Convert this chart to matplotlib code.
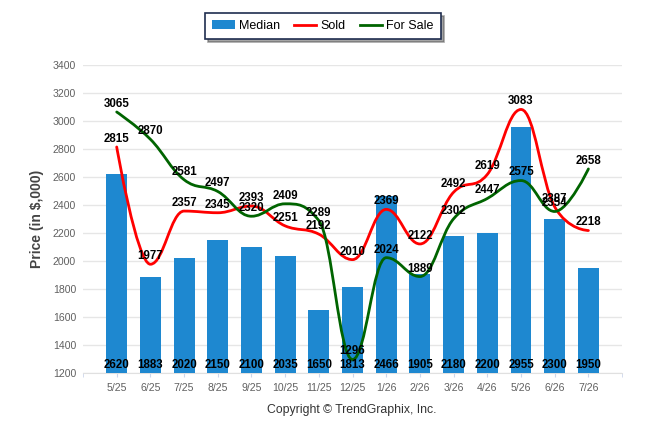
import matplotlib
matplotlib.use("Agg")
import matplotlib.pyplot as plt
from matplotlib.path import Path
from matplotlib.patches import PathPatch, Patch
from matplotlib.lines import Line2D

months = ["5/25", "6/25", "7/25", "8/25", "9/25", "10/25", "11/25", "12/25",
          "1/26", "2/26", "3/26", "4/26", "5/26", "6/26", "7/26"]
median = [2620, 1883, 2020, 2150, 2100, 2035, 1650, 1813, 2466, 1905, 2180, 2200, 2955, 2300, 1950]
sold = [2815, 1977, 2357, 2345, 2393, 2251, 2192, 2010, 2369, 2122, 2492, 2619, 3083, 2387, 2218]
for_sale = [3065, 2870, 2581, 2497, 2320, 2409, 2289, 1296, 2024, 1889, 2302, 2447, 2575, 2354, 2658]
yticks = list(range(1200, 3401, 200))

BAR = "#1e88d0"
RED = "#ff0000"
GREEN = "#006400"
GRID = "#e6e6e6"
TXT = "#606060"

plt.rcParams['font.family'] = ['Liberation Sans', 'DejaVu Sans']


def spline_path(xs, ys):
    n = len(xs)
    lc = [None] * n
    rc = [None] * n
    for i in range(n):
        x, y = xs[i], ys[i]
        lcx, lcy, rcx, rcy = x, y, x, y
        if 0 < i < n - 1:
            lx, ly = xs[i - 1], ys[i - 1]
            nx, ny = xs[i + 1], ys[i + 1]
            lcx = (1.5 * x + lx) / 2.5
            lcy = (1.5 * y + ly) / 2.5
            rcx = (1.5 * x + nx) / 2.5
            rcy = (1.5 * y + ny) / 2.5
            if rcx != lcx:
                corr = (rcy - lcy) * (rcx - x) / (rcx - lcx) + y - rcy
                lcy += corr
                rcy += corr
            if lcy > ly and lcy > y:
                lcy = max(ly, y)
                rcy = 2 * y - lcy
            elif lcy < ly and lcy < y:
                lcy = min(ly, y)
                rcy = 2 * y - lcy
            if rcy > ny and rcy > y:
                rcy = max(ny, y)
                lcy = 2 * y - rcy
            elif rcy < ny and rcy < y:
                rcy = min(ny, y)
                lcy = 2 * y - rcy
        lc[i] = (lcx, lcy)
        rc[i] = (rcx, rcy)
    verts = [(xs[0], ys[0])]
    codes = [Path.MOVETO]
    for i in range(1, n):
        verts += [rc[i - 1], lc[i], (xs[i], ys[i])]
        codes += [Path.CURVE4] * 3
    return Path(verts, codes)


fig = plt.figure(figsize=(6.46, 4.34), dpi=100)
ax = fig.add_axes([0.1285, 0.1406, 0.963 - 0.1285, 0.850 - 0.1406])

x = list(range(len(months)))
ax.bar(x, [m - 1200 for m in median], bottom=1200, width=0.62, color=BAR, zorder=2)

for vals, col in [(sold, RED), (for_sale, GREEN)]:
    p = spline_path(x, vals)
    ax.add_patch(PathPatch(p, facecolor='none', edgecolor=col, lw=2.0, zorder=3,
                           capstyle='round', joinstyle='round'))

for xi, v in zip(x, median):
    ax.annotate(str(v), (xi, 1200), xytext=(0, 5.8), textcoords='offset points',
                ha='center', va='center', fontsize=8.3, fontweight='bold', color='black', zorder=5)
for vals in (sold, for_sale):
    for xi, v in zip(x, vals):
        ax.annotate(str(v), (xi, v), xytext=(0, 5.8), textcoords='offset points',
                    ha='center', va='center', fontsize=8.3, fontweight='bold', color='black', zorder=5)

ax.set_xlim(-1, 15)
ax.set_ylim(1200, 3400)
ax.set_yticks(yticks)
ax.set_yticklabels([str(t) for t in yticks])
ax.set_xticks(x)
ax.set_xticklabels(months)
ax.set_xticks([-1, 15], minor=True)
ax.tick_params(axis='y', length=0, pad=5, labelsize=7.6, labelcolor=TXT)
ax.tick_params(axis='x', which='both', length=3, color='#ccd6eb', pad=4, labelsize=7.6, labelcolor=TXT)
ax.grid(axis='y', color=GRID, lw=1, zorder=0)
ax.set_axisbelow(True)
for s in ['left', 'right', 'top']:
    ax.spines[s].set_visible(False)
ax.spines['bottom'].set_color('#e0e0e0')
ax.spines['bottom'].set_zorder(1)

ax.set_ylabel("Price (in $,000)", fontsize=10, fontweight='bold', color='#444444')
ax.yaxis.set_label_coords(-0.072, 0.5)

fig.text(0.545, 1 - 410 / 434, "Copyright © TrendGraphix, Inc.", ha='center', va='center',
         fontsize=8.8, color='#333333')

handles = [Patch(facecolor=BAR, edgecolor='none'),
           Line2D([], [], color=RED, lw=2),
           Line2D([], [], color=GREEN, lw=2)]
leg = fig.legend(handles, ["Median", "Sold", "For Sale"], loc='center',
                 bbox_to_anchor=(0.5, 1 - 26 / 434), ncol=3, fontsize=9,
                 frameon=True, fancybox=False, shadow=True, handlelength=1.8,
                 handletextpad=0.35, columnspacing=1.1, borderpad=0.55, borderaxespad=0)
leg.get_frame().set_edgecolor('#1f2d4f')
leg.get_frame().set_linewidth(1.2)

fig.savefig("out.png", dpi=100)
